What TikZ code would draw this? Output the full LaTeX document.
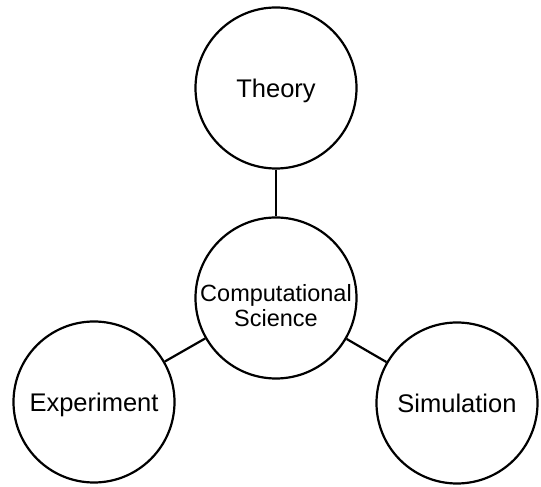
\documentclass[tikz,border=0pt]{standalone}
\usepackage{fontspec}
\setmainfont{Liberation Sans}
\begin{document}
\begin{tikzpicture}[x=1pt,y=1pt,
  bubble/.style={circle,draw=black,line width=2.2pt,fill=white,minimum size=161pt,inner sep=0pt,align=center,font=\fontsize{25.5}{28}\selectfont},
  single/.style={text height=21pt,text depth=2pt},
  link/.style={draw=black,line width=2.2pt}]
\useasboundingbox (0,0) rectangle (541,487);
\node[bubble,single] (th) at (276,399) {Theory};
\node[bubble,font=\fontsize{23.5}{25.5}\selectfont] (cs) at (276,189) {\raisebox{-11pt}[\height][\depth]{\begin{tabular}{@{}c@{}}Computational\\Science\end{tabular}}};
\node[bubble,single] (ex) at (94,85) {Experiment};
\node[bubble,single] (si) at (457,84) {Simulation};
\draw[link] (th) -- (cs);
\draw[link] (cs) -- (ex);
\draw[link] (cs) -- (si);
\end{tikzpicture}
\end{document}
